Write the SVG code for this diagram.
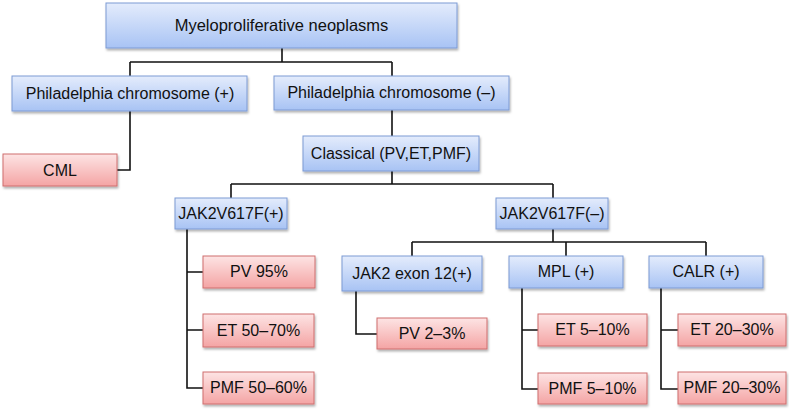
<svg xmlns="http://www.w3.org/2000/svg" width="789" height="409" viewBox="0 0 789 409">
<defs>
<linearGradient id="gb" x1="0" y1="0" x2="0" y2="1"><stop offset="0" stop-color="#e4ecfc"/><stop offset="1" stop-color="#a8c3f4"/></linearGradient>
<linearGradient id="gr" x1="0" y1="0" x2="0" y2="1"><stop offset="0" stop-color="#fde4e4"/><stop offset="1" stop-color="#f4a4a4"/></linearGradient>
<filter id="sh" x="-10%" y="-20%" width="120%" height="150%"><feDropShadow dx="1" dy="2" stdDeviation="1.2" flood-color="#000" flood-opacity="0.3"/></filter>
</defs>
<style>
.b{fill:url(#gb);stroke:#7c9bd4;stroke-width:1;filter:url(#sh)}
.r{fill:url(#gr);stroke:#cf6e6e;stroke-width:1;filter:url(#sh)}
text{font-family:"Liberation Sans",Arial,sans-serif;font-size:16px;fill:#111;text-anchor:middle;dominant-baseline:central}
.t{font-size:16.5px}
.c{fill:none;stroke:#111;stroke-width:1.6}
</style>
<rect width="789" height="409" fill="#fff"/>
<g id="connectors">
<path class="c" d="M282,48V62M130,62H392M130,62V76M392,62V76"/>
<path class="c" d="M130,111V170H117"/>
<path class="c" d="M392,110V136"/>
<path class="c" d="M392,171V184M231,184H553M231,184V198M553,184V198"/>
<path class="c" d="M187,229V388H203M187,272H203M187,330H203"/>
<path class="c" d="M553,229V242M412,242H706M412,242V256M566,242V256M706,242V256"/>
<path class="c" d="M356,291V334H377"/>
<path class="c" d="M522,288V389H538M522,330H538"/>
<path class="c" d="M661,288V389H678M661,330H678"/>
</g>
<g id="mpn"><rect class="b" x="106" y="3" width="351" height="45"/><text class="t" x="281.5" y="25">Myeloproliferative neoplasms</text></g>
<g id="phpos"><rect class="b" x="12" y="76" width="235" height="35"/><text x="130" y="93">Philadelphia chromosome (+)</text></g>
<g id="phneg"><rect class="b" x="274" y="76" width="235" height="34"/><text x="391.5" y="92.5">Philadelphia chromosome (–)</text></g>
<g id="cml"><rect class="r" x="3" y="154" width="114" height="32"/><text x="60" y="170">CML</text></g>
<g id="classical"><rect class="b" x="303" y="136" width="176" height="35"/><text x="391" y="153">Classical (PV,ET,PMF)</text></g>
<g id="jakpos"><rect class="b" x="175" y="198" width="112" height="31"/><text x="231" y="213">JAK2V617F(+)</text></g>
<g id="jakneg"><rect class="b" x="496" y="198" width="112" height="31"/><text x="552" y="213">JAK2V617F(–)</text></g>
<g id="pv95"><rect class="r" x="203" y="256" width="112" height="32"/><text x="259" y="271.5">PV 95%</text></g>
<g id="et5070"><rect class="r" x="203" y="314" width="111" height="33"/><text x="258.5" y="330">ET 50–70%</text></g>
<g id="pmf5060"><rect class="r" x="203" y="372" width="111" height="32"/><text x="258.5" y="387.5">PMF 50–60%</text></g>
<g id="exon12"><rect class="b" x="342" y="256" width="140" height="35"/><text x="412" y="273">JAK2 exon 12(+)</text></g>
<g id="mpl"><rect class="b" x="509" y="256" width="114" height="32"/><text x="566" y="271.5">MPL (+)</text></g>
<g id="calr"><rect class="b" x="649" y="256" width="114" height="32"/><text x="706" y="271.5">CALR (+)</text></g>
<g id="pv23"><rect class="r" x="377" y="318" width="110" height="31"/><text x="432" y="333">PV 2–3%</text></g>
<g id="et510"><rect class="r" x="538" y="314" width="109" height="32"/><text x="592.5" y="329.5">ET 5–10%</text></g>
<g id="pmf510"><rect class="r" x="538" y="373" width="109" height="31"/><text x="592.5" y="388">PMF 5–10%</text></g>
<g id="et2030"><rect class="r" x="678" y="314" width="108" height="32"/><text x="732" y="329.5">ET 20–30%</text></g>
<g id="pmf2030"><rect class="r" x="678" y="372" width="108" height="32"/><text x="732" y="387.5">PMF 20–30%</text></g>
</svg>
